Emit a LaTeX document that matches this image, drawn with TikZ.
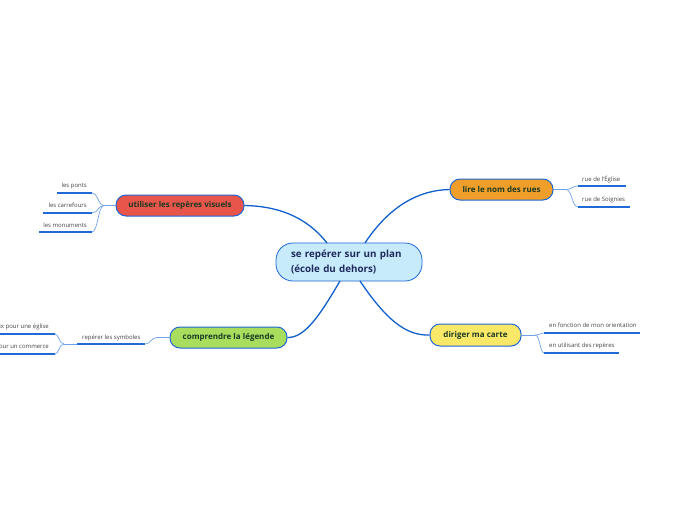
\documentclass[tikz,border=0pt]{standalone}
\usepackage{fontspec}
\setmainfont{Open Sans}
\definecolor{bord}{HTML}{1F66D6}
\definecolor{mainln}{HTML}{1160CC}
\definecolor{subln}{HTML}{6FA2EA}
\definecolor{uline}{HTML}{1F6AD8}
\definecolor{txtdark}{HTML}{1B3A22}
\definecolor{txtnavy}{HTML}{1E2A5C}
\definecolor{txtgrey}{HTML}{444444}
\definecolor{cred}{HTML}{E8554B}
\definecolor{corange}{HTML}{EF9E2A}
\definecolor{cgreen}{HTML}{A8DD5E}
\definecolor{cyellow}{HTML}{F9E767}
\definecolor{cblue}{HTML}{C8EBFC}
\tikzset{
  topic/.style={draw=bord, line width=1pt, rounded corners=10pt, inner sep=0pt, text=txtdark, font=\bfseries\fontsize{8}{9}\selectfont},
  central/.style={draw=bord, line width=0.8pt, rounded corners=17pt, inner sep=0pt, text=txtnavy, font=\bfseries\fontsize{9.8}{15}\selectfont, align=left},
  mainconn/.style={draw=mainln, line width=1.3pt},
  subconn/.style={draw=subln, line width=0.7pt},
  ul/.style={draw=uline, line width=1.3pt},
  small/.style={text=txtgrey, font=\fontsize{6}{7}\selectfont, inner sep=0pt}
}
\begin{document}
\begin{tikzpicture}[x=1pt,y=-1pt]
\useasboundingbox (0,0) rectangle (696,520);
% central
\node[central, fill=cblue, minimum width=146pt, minimum height=38pt, text width=116pt] (c) at (349,262) {se repérer sur un plan\\(école du dehors)};
% topics
\node[topic, fill=cred, minimum width=128pt, minimum height=21pt] (red) at (180,205.5) {utiliser les repères visuels};
\node[topic, fill=corange, minimum width=103pt, minimum height=21pt] (org) at (501.5,189.5) {lire le nom des rues};
\node[topic, fill=cgreen, minimum width=117pt, minimum height=21pt] (grn) at (228.5,337.5) {comprendre la légende};
\node[topic, fill=cyellow, minimum width=91pt, minimum height=22pt] (yel) at (475.5,335) {diriger ma carte};
% central connectors
\coordinate (c1) at (327,243);
\coordinate (c2) at (365,243);
\coordinate (c3) at (340,281);
\coordinate (c4) at (360,281);
\draw[mainconn] (c1) .. controls (305,215) and (275,206) .. (red.east);
\draw[mainconn] (c2) .. controls (390,205) and (420,190) .. (org.west);
\draw[mainconn] (c3) .. controls (320,315) and (305,338) .. (grn.east);
\draw[mainconn] (c4) .. controls (385,318) and (405,336) .. (yel.west);
% red subtopics
\coordinate (rj) at (104,205.5);
\coordinate (p1a) at (57,193); \coordinate (p1b) at (92,193);
\coordinate (p2a) at (43,213); \coordinate (p2b) at (92,213);
\coordinate (p3a) at (39,232); \coordinate (p3b) at (92,232);
\draw[ul] (p1a) -- (p1b);
\draw[ul] (p2a) -- (p2b);
\draw[ul] (p3a) -- (p3b);
\node[small, anchor=base east] (t1) at (87,187) {les ponts};
\node[small, anchor=base east] (t2) at (87,207) {les carrefours};
\node[small, anchor=base east] (t3) at (87,227) {les monuments};
\draw[subconn] (red.west) -- (rj);
\draw[subconn] (rj) .. controls (98,205.5) and (98,193) .. (p1b);
\draw[subconn] (rj) .. controls (98,205.5) and (98,213) .. (p2b);
\draw[subconn] (rj) .. controls (98,205.5) and (98,232) .. (p3b);
% orange subtopics
\coordinate (oj) at (566,189.5);
\coordinate (o1a) at (578,186); \coordinate (o1b) at (626,186);
\coordinate (o2a) at (578,207); \coordinate (o2b) at (630,207);
\draw[ul] (o1a) -- (o1b);
\draw[ul] (o2a) -- (o2b);
\node[small, anchor=base west] (u1) at (582,181) {rue de l'Église};
\node[small, anchor=base west] (u2) at (582,201.5) {rue de Soignies};
\draw[subconn] (org.east) -- (oj);
\draw[subconn] (oj) .. controls (572,189.5) and (572,186) .. (o1a);
\draw[subconn] (oj) .. controls (572,189.5) and (572,207) .. (o2a);
% yellow subtopics
\coordinate (yj) at (535,335);
\coordinate (y1a) at (544,333); \coordinate (y1b) at (640,333);
\coordinate (y2a) at (544,353); \coordinate (y2b) at (619,353);
\draw[ul] (y1a) -- (y1b);
\draw[ul] (y2a) -- (y2b);
\node[small, anchor=base west] (v1) at (549,327.5) {en fonction de mon orientation};
\node[small, anchor=base west] (v2) at (549,347.5) {en utilisant des repères};
\draw[subconn] (yel.east) -- (yj);
\draw[subconn] (yj) .. controls (540,335) and (540,333) .. (y1a);
\draw[subconn] (yj) .. controls (540,335) and (540,353) .. (y2a);
% green subtopics
\coordinate (g1a) at (77,344); \coordinate (g1b) at (145,344);
\draw[ul] (g1a) -- (g1b);
\node[small, anchor=base west] (w1) at (82,339) {repérer les symboles};
\draw[subconn] (grn.west) -- (157,337.5) .. controls (151,337.5) and (151,344) .. (g1b);
\coordinate (h1a) at (0,334); \coordinate (h1b) at (55,334);
\coordinate (h2a) at (0,354); \coordinate (h2b) at (55,354);
\draw[ul] (h1a) -- (h1b);
\draw[ul] (h2a) -- (h2b);
\node[small, anchor=base east] (x1) at (49,328.5) {ix pour une église};
\node[small, anchor=base east] (x2) at (49,348.5) {our un commerce};
\coordinate (gj) at (64,344);
\draw[subconn] (g1a) -- (gj);
\draw[subconn] (gj) .. controls (59,344) and (59,334) .. (h1b);
\draw[subconn] (gj) .. controls (59,344) and (59,354) .. (h2b);
\end{tikzpicture}
\end{document}
